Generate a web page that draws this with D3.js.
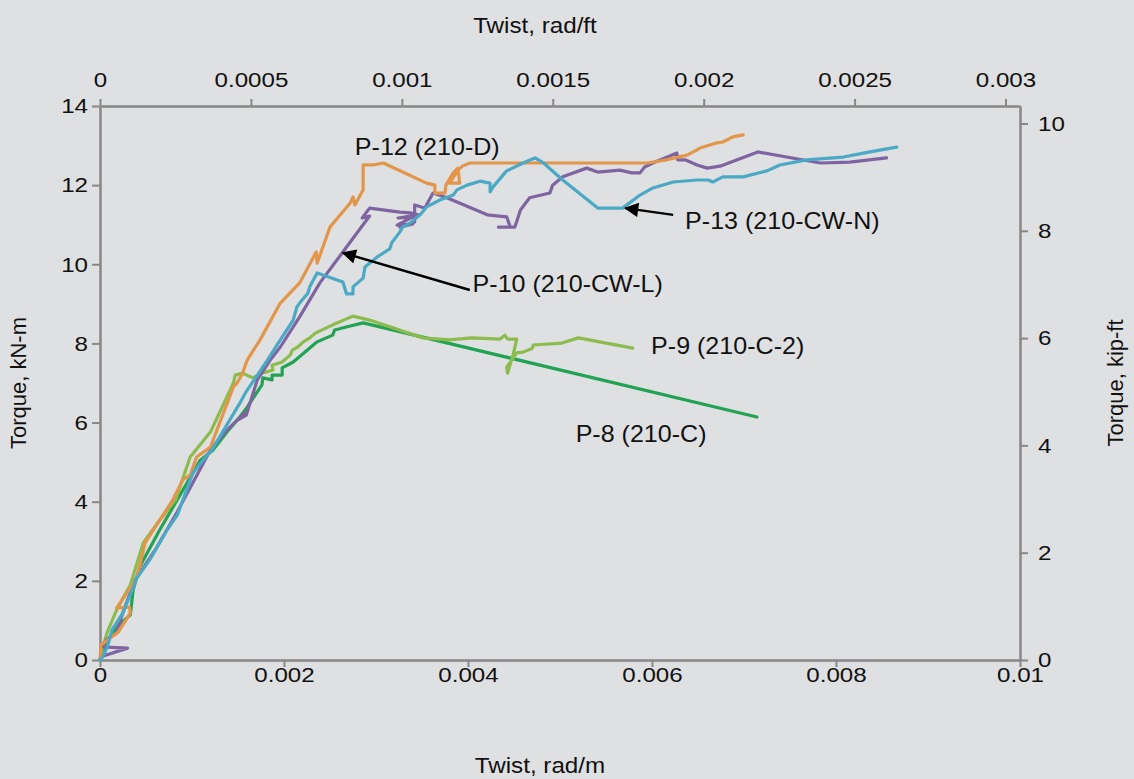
<!DOCTYPE html>
<html>
<head>
<meta charset="utf-8">
<script src="https://cdn.jsdelivr.net/npm/d3@7"></script>
<style>
  body { margin: 0; background: #dfe0e2; }
  svg { display: block; }
  text { font-family: "Liberation Sans", Arial, sans-serif; fill: #111; }
</style>
</head>
<body>
<svg id="chart" width="1134" height="779"></svg>
<script>
// Axis ticks
const twistTicksM = [0, 0.002, 0.004, 0.006, 0.008, 0.01];
const twistTicksFt = [0, 0.0005, 0.001, 0.0015, 0.002, 0.0025, 0.003];
const torqueTicksKNm = [0, 2, 4, 6, 8, 10, 12, 14];
const torqueTicksKipFt = [0, 2, 4, 6, 8, 10];

// Unit conversions for the secondary axes
const M_PER_FT = 0.3048;
const KIPFT_PER_KNM = 0.737562;

// Test results: [twist (rad/m), torque (kN-m)]
const p8 = [
  [0, 0], [0.00002, 0.13], [0.00009, 0.51], [0.00020, 0.88], [0.00033, 1.14],
  [0.00036, 1.77], [0.00043, 2.35], [0.00065, 3.29], [0.00109, 5.05], [0.00123, 5.31],
  [0.00138, 5.76], [0.00152, 6.14], [0.00160, 6.39], [0.00176, 6.95], [0.00177, 7.13],
  [0.00187, 7.08], [0.00187, 7.20], [0.00198, 7.20], [0.00198, 7.38], [0.00210, 7.53],
  [0.00236, 8.04], [0.00253, 8.21], [0.00255, 8.34], [0.00272, 8.44], [0.00286, 8.52],
  [0.00714, 6.14]
];
const p9 = [
  [0, 0], [0.00002, 0.25], [0.00008, 0.71], [0.00018, 1.26], [0.00033, 1.90],
  [0.00047, 2.96], [0.00065, 3.54], [0.00082, 4.04], [0.00098, 5.13], [0.00120, 5.76],
  [0.00145, 7.00], [0.00147, 7.20], [0.00155, 7.25], [0.00166, 7.13], [0.00176, 7.25],
  [0.00188, 7.33], [0.00187, 7.45], [0.00198, 7.53], [0.00207, 7.71], [0.00209, 7.83],
  [0.00215, 7.91], [0.00221, 8.04], [0.00228, 8.14], [0.00234, 8.26], [0.00253, 8.47],
  [0.00275, 8.69], [0.00293, 8.59], [0.00351, 8.14], [0.00380, 8.09], [0.00404, 8.14],
  [0.00435, 8.11], [0.00440, 8.21], [0.00443, 8.11], [0.00453, 8.11], [0.00449, 7.71],
  [0.00443, 7.25], [0.00442, 7.40], [0.00453, 7.76], [0.00460, 7.78], [0.00470, 7.88],
  [0.00471, 7.96], [0.00502, 8.01], [0.00520, 8.14], [0.00579, 7.88]
];
const p10 = [
  [0, 0], [0.00001, 0.08], [0.00030, 0.30], [0.00001, 0.33], [0.00007, 0.51],
  [0.00018, 0.68], [0.00025, 1.21], [0.00038, 2.02], [0.00060, 2.78], [0.00082, 3.66],
  [0.00098, 4.35], [0.00120, 5.31], [0.00138, 5.81], [0.00157, 6.24], [0.00150, 6.07],
  [0.00159, 6.19], [0.00171, 7.08], [0.00185, 7.58], [0.00196, 7.91], [0.00217, 8.67],
  [0.00239, 9.53], [0.00264, 10.31], [0.00293, 11.22], [0.00285, 11.17], [0.00293, 11.42],
  [0.00326, 11.32], [0.00337, 11.30], [0.00346, 11.25], [0.00324, 11.17], [0.00340, 11.20],
  [0.00323, 10.99], [0.00340, 11.02], [0.00326, 10.94], [0.00342, 11.07], [0.00342, 11.50],
  [0.00353, 11.42], [0.00362, 11.80], [0.00377, 11.68], [0.00421, 11.25], [0.00442, 11.20],
  [0.00446, 10.94], [0.00433, 10.94], [0.00451, 10.94], [0.00457, 11.37], [0.00467, 11.68],
  [0.00489, 11.80], [0.00492, 12.00], [0.00503, 12.21], [0.00529, 12.43], [0.00541, 12.33],
  [0.00565, 12.38], [0.00578, 12.31], [0.00587, 12.31], [0.00592, 12.46], [0.00601, 12.56],
  [0.00627, 12.81], [0.00628, 12.64], [0.00636, 12.64], [0.00649, 12.51], [0.00660, 12.43],
  [0.00674, 12.48], [0.00715, 12.84], [0.00783, 12.56], [0.00815, 12.58], [0.00855, 12.69]
];
const p12 = [
  [0, 0], [0.00001, 0.38], [0.00020, 0.71], [0.00033, 1.19], [0.00032, 1.34],
  [0.00018, 1.31], [0.00040, 2.07], [0.00049, 2.96], [0.00079, 4.04], [0.00090, 4.55],
  [0.00098, 4.68], [0.00105, 5.13], [0.00120, 5.38], [0.00145, 6.90], [0.00149, 7.00],
  [0.00155, 7.25], [0.00160, 7.58], [0.00174, 8.09], [0.00196, 9.02], [0.00217, 9.53],
  [0.00235, 10.31], [0.00236, 10.03], [0.00250, 10.94], [0.00272, 11.55], [0.00275, 11.70],
  [0.00277, 11.50], [0.00286, 11.88], [0.00286, 12.51], [0.00297, 12.51], [0.00308, 12.56],
  [0.00355, 12.05], [0.00364, 12.00], [0.00364, 11.80], [0.00375, 11.80], [0.00376, 12.00],
  [0.00384, 12.31], [0.00389, 12.43], [0.00391, 12.05], [0.00380, 12.05], [0.00389, 12.38],
  [0.00394, 12.48], [0.00402, 12.56], [0.00595, 12.56], [0.00616, 12.64], [0.00638, 12.76],
  [0.00649, 12.89], [0.00652, 12.94], [0.00671, 13.07], [0.00677, 13.09], [0.00688, 13.22],
  [0.00699, 13.27]
];
const p13 = [
  [0, 0], [0.00003, 0.08], [0.00008, 0.33], [0.00013, 0.76], [0.00025, 1.19],
  [0.00040, 2.07], [0.00054, 2.53], [0.00073, 3.29], [0.00084, 3.66], [0.00101, 4.73],
  [0.00123, 5.36], [0.00152, 6.49], [0.00158, 6.75], [0.00182, 7.58], [0.00196, 8.09],
  [0.00210, 8.59], [0.00214, 8.92], [0.00217, 9.02], [0.00226, 9.27], [0.00228, 9.43],
  [0.00236, 9.78], [0.00264, 9.55], [0.00268, 9.25], [0.00275, 9.25], [0.00275, 9.43],
  [0.00286, 9.65], [0.00288, 9.93], [0.00301, 10.18], [0.00315, 10.39], [0.00317, 10.54],
  [0.00326, 10.82], [0.00329, 10.94], [0.00337, 11.04], [0.00348, 11.25], [0.00355, 11.45],
  [0.00370, 11.63], [0.00384, 11.75], [0.00388, 11.88], [0.00399, 12.00], [0.00413, 12.10],
  [0.00424, 12.05], [0.00424, 11.83], [0.00427, 11.95], [0.00442, 12.36], [0.00460, 12.56],
  [0.00473, 12.69], [0.00482, 12.56], [0.00503, 12.13], [0.00541, 11.42], [0.00568, 11.42],
  [0.00587, 11.75], [0.00601, 11.93], [0.00623, 12.08], [0.00649, 12.13], [0.00661, 12.13],
  [0.00666, 12.08], [0.00677, 12.21], [0.00699, 12.21], [0.00725, 12.36], [0.00739, 12.51],
  [0.00768, 12.64], [0.00808, 12.71], [0.00837, 12.84], [0.00866, 12.96]
];

const seriesNames = ["P-8 (210-C)", "P-9 (210-C-2)", "P-10 (210-CW-L)", "P-12 (210-D)", "P-13 (210-CW-N)"];
const seriesValues = [p8, p9, p10, p12, p13];
const seriesColors = ["#22a354", "#8cbb4e", "#7f64a2", "#e3954a", "#4aa9c4"];

// Label anchors [twist, torque]; arrows run from tail to head
const labelAnchors = [[0.00517, 5.51], [0.00599, 7.73], [0.00405, 9.30], [0.00277, 12.76], [0.00636, 10.89]];
const arrows = [
  { series: 2, from: [0.00402, 9.35], to: [0.00264, 10.29] },
  { series: 4, from: [0.00623, 11.25], to: [0.00571, 11.42] }
];

const svg = d3.select("#chart");
const plot = { left: 100, right: 1020, top: 106, bottom: 660 };

const x = d3.scaleLinear().domain([0, 0.01]).range([plot.left, plot.right]);
const y = d3.scaleLinear().domain([0, 14]).range([plot.bottom, plot.top]);
const xFt = d3.scaleLinear().domain([0, 0.01 * M_PER_FT]).range([plot.left, plot.right]);
const yKip = d3.scaleLinear().domain([0, 14 * KIPFT_PER_KNM]).range([plot.bottom, plot.top]);

const axisColor = "#878787";
const fmt = d => String(d);

// Widen glyphs horizontally about each text's own anchor point
function widen(sel, k) {
  sel.each(function () {
    const t = d3.select(this);
    const x0 = +t.attr("x") || 0;
    t.attr("transform", `translate(${x0},0) scale(${k},1) translate(${-x0},0)`);
  });
}

function styleAxis(g) {
  g.selectAll(".domain").attr("stroke", axisColor).attr("stroke-width", 2.5);
  g.selectAll(".tick line").attr("stroke", axisColor).attr("stroke-width", 2);
  const t = g.selectAll(".tick text").attr("fill", "#111").style("font-size", "21px")
    .style("font-family", '"Liberation Sans", Arial, sans-serif');
  widen(t, 1.15);
}

svg.append("g").attr("transform", `translate(0,${plot.bottom})`)
  .call(d3.axisBottom(x).tickValues(twistTicksM).tickFormat(fmt).tickSize(7).tickSizeOuter(0).tickPadding(0))
  .call(styleAxis);
svg.append("g").attr("transform", `translate(0,${plot.top})`)
  .call(d3.axisTop(xFt).tickValues(twistTicksFt).tickFormat(fmt).tickSize(7).tickSizeOuter(0).tickPadding(12))
  .call(styleAxis);
svg.append("g").attr("transform", `translate(${plot.left},0)`)
  .call(d3.axisLeft(y).tickValues(torqueTicksKNm).tickFormat(fmt).tickSize(8).tickSizeOuter(0).tickPadding(4))
  .call(styleAxis);
svg.append("g").attr("transform", `translate(${plot.right},0)`)
  .call(d3.axisRight(yKip).tickValues(torqueTicksKipFt).tickFormat(fmt).tickSize(8).tickSizeOuter(0).tickPadding(10))
  .call(styleAxis);

// Axis titles
const titleTop = svg.append("text").attr("x", 535).attr("y", 33)
  .attr("text-anchor", "middle").style("font-size", "22px").text("Twist, rad/ft");
const titleBottom = svg.append("text").attr("x", 540).attr("y", 773)
  .attr("text-anchor", "middle").style("font-size", "22px").text("Twist, rad/m");
widen(titleTop, 1.1);
widen(titleBottom, 1.1);
svg.append("text").attr("transform", `translate(26,${(plot.top + plot.bottom) / 2}) rotate(-90)`)
  .attr("text-anchor", "middle").style("font-size", "22px").text("Torque, kN-m");
svg.append("text").attr("transform", `translate(1123,${(plot.top + plot.bottom) / 2}) rotate(-90)`)
  .attr("text-anchor", "middle").style("font-size", "22px").text("Torque, kip-ft");

// Curves
const line = d3.line().x(d => x(d[0])).y(d => y(d[1]));
svg.append("g").selectAll("path").data(seriesValues).join("path")
  .attr("d", line)
  .attr("fill", "none")
  .attr("stroke", (d, i) => seriesColors[i])
  .attr("stroke-width", 3.2)
  .attr("stroke-linejoin", "round")
  .attr("stroke-linecap", "round");

// Arrows
svg.append("defs").append("marker")
  .attr("id", "head").attr("viewBox", "0 0 10 10").attr("refX", 9).attr("refY", 5)
  .attr("markerWidth", 7).attr("markerHeight", 6).attr("markerUnits", "strokeWidth")
  .attr("orient", "auto")
  .append("path").attr("d", "M0,0L10,5L0,10Z").attr("fill", "#000");

svg.append("g").selectAll("line").data(arrows).join("line")
  .attr("x1", d => x(d.from[0])).attr("y1", d => y(d.from[1]))
  .attr("x2", d => x(d.to[0])).attr("y2", d => y(d.to[1]))
  .attr("stroke", "#000").attr("stroke-width", 2.4)
  .attr("marker-end", "url(#head)");

// Series labels
const labels = svg.append("g").selectAll("text").data(seriesNames).join("text")
  .attr("x", (d, i) => x(labelAnchors[i][0]))
  .attr("y", (d, i) => y(labelAnchors[i][1]))
  .style("font-size", "23px")
  .text(d => d);
widen(labels, 1.09);
</script>
</body>
</html>
